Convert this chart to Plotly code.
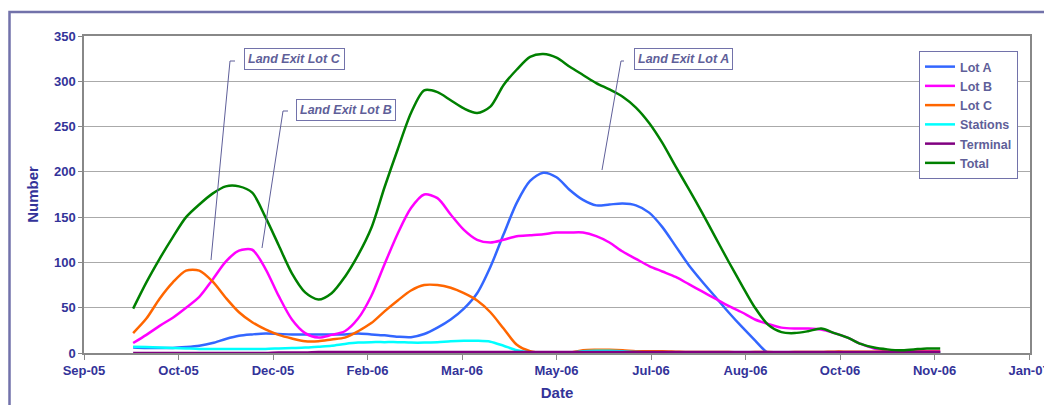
import pandas as pd
import plotly.graph_objects as go

# ---- data (weekly readings) ----
dates = pd.date_range("2005-10-01", periods=62, freq="7D")

lot_a = [6, 5.5, 5.5, 5.5, 6.5, 8, 11, 15.5, 19, 20.5,
         21.5, 21, 20.5, 20.5, 20.5, 20.5, 20.5, 21.5, 20.5, 19.5,
         18, 17.5, 21, 28, 37, 49, 66, 95, 131, 166,
         190, 199, 194, 180, 169, 163, 164, 165, 163, 155,
         139, 118, 97, 79, 62, 45, 29, 14, 0, 0,
         0, 0, 0, 0, 0, 0, 0, 0, 0, 0,
         0, 0]
lot_b = [11, 20, 30, 39, 50, 62, 81, 101, 113, 114,
         93, 63, 37, 22, 17, 20, 24, 38, 63, 98,
         132, 160, 175, 171, 153, 136, 125, 122, 125, 129,
         130, 131, 133, 133, 133, 129, 122, 112, 104, 96,
         90, 84, 76, 68, 60, 52, 45, 37, 32, 28,
         27, 27, 26, 22, 17, 10, 5, 3, 2, 2,
         2, 2]
lot_c = [22, 38, 60, 78, 91, 91, 79, 61, 45, 34,
         26, 20, 16, 13, 13, 15, 17, 24, 33, 46,
         58, 69, 75, 75, 72, 66, 58, 45, 27, 9,
         2, 0, 0, 0.5, 3, 3.5, 3.5, 3, 2, 2,
         2, 1.5, 1, 1, 1, 1, 0.5, 1, 1, 0.5,
         1, 1, 1, 1.5, 1.5, 1.5, 1.5, 1.5, 1.5, 1.5,
         1.5, 1.5]
stations = [7, 6.5, 6, 5.5, 5, 4.5, 4.5, 4.5, 4.5, 4.5,
            4.5, 5, 5.5, 6, 7, 8, 10, 11.5, 12, 12,
            12, 11.5, 11.5, 12, 13, 13.5, 13.5, 12.5, 8, 3,
            0.5, 0, 0, 0.5, 2, 2.5, 2.5, 2, 1, 0.5,
            0.5, 0.5, 0.5, 0.5, 0.5, 0.5, 0.5, 0.5, 0.5, 0.5,
            0.5, 0.5, 0.5, 0.5, 0.5, 0.5, 0.5, 0.5, 0.5, 0.5,
            0.5, 0.5]
terminal = [0, 0, 0, 0, 0, 0, 0, 0, 0, 0,
            0, 0.5, 0.5, 0.5, 1, 1, 1, 1, 1, 1,
            1, 1, 1, 1, 1, 1, 1, 1, 1, 1,
            1, 1, 1, 1, 1, 1, 1, 1, 1, 1,
            1, 1, 1, 1, 1, 1, 1, 1, 1, 1,
            1, 1, 1, 1, 1, 1, 1, 1, 1, 1,
            1, 1]
total = [49, 78, 104, 128, 150, 164, 176, 184, 184, 177,
         150, 119, 88, 67, 59, 66, 84, 108, 138, 183,
         225, 265, 290, 288, 279, 270, 265, 272, 296, 313,
         327, 330, 326, 316, 307, 298, 291, 283, 271, 254,
         232, 206, 181, 155, 128, 101, 75, 50, 31, 23,
         22, 24, 27, 22, 17, 10, 6, 4, 3, 4,
         5, 5]

series_names = ["Lot A", "Lot B", "Lot C", "Stations", "Terminal", "Total"]
series_vals = [lot_a, lot_b, lot_c, stations, terminal, total]
series_colors = ["#3366FF", "#FF00FF", "#FF6600", "#00FFFF", "#800080", "#008000"]

annot_texts = ["Land Exit Lot C", "Land Exit Lot B", "Land Exit Lot A"]

# ---- layout geometry (pixels) ----
W, H = 1044, 405
PL, PR, PT, PB = 84, 1030, 36, 353


def px(x):
    return (x - PL) / (PR - PL)


def py(y):
    return (PB - y) / (PB - PT)


TXT = "#333399"
SOFT = "#5F5F99"
FRAME = "#7272AA"
FONT = "Liberation Sans, Arial, sans-serif"

fig = go.Figure()
for name, vals, col in zip(series_names, series_vals, series_colors):
    fig.add_trace(go.Scatter(
        x=dates, y=vals, name=name, mode="lines",
        line=dict(color=col, width=2.5, shape="spline", smoothing=0.8),
    ))

shapes = []
# outer chart frame
shapes.append(dict(type="rect", xref="paper", yref="paper",
                   x0=px(9.5), x1=px(1100), y0=py(12), y1=py(460),
                   line=dict(color=FRAME, width=2.5), layer="below"))

# annotation boxes and leader lines
boxes = [((244, 345, 47, 71), (230, 61), (235, 61), (211, 260)),
         ((296, 396, 98, 121), (283, 111), (288, 111), (262, 248)),
         ((633, 734, 47, 71), (621, 61), (624, 61), (602, 170))]
annotations = []
for text, (box, p0, p1, p2) in zip(annot_texts, boxes):
    x0, x1, y0, y1 = box
    annotations.append(dict(
        xref="paper", yref="paper", x=px((x0 + x1) / 2), y=py((y0 + y1) / 2),
        text="<b><i>" + text + "</i></b>", showarrow=False,
        font=dict(family=FONT, size=12.5, color=SOFT),
        bgcolor="white", bordercolor=FRAME, borderwidth=1, borderpad=3,
        xanchor="center", yanchor="middle",
    ))
    shapes.append(dict(type="line", xref="paper", yref="paper",
                       x0=px(p0[0]), y0=py(p0[1]), x1=px(p1[0]), y1=py(p1[1]),
                       line=dict(color=SOFT, width=1)))
    shapes.append(dict(type="line", xref="paper", yref="paper",
                       x0=px(p0[0]), y0=py(p0[1]), x1=px(p2[0]), y1=py(p2[1]),
                       line=dict(color=SOFT, width=1)))

fig.update_layout(
    width=W, height=H,
    margin=dict(l=PL, r=W - PR, t=PT, b=H - PB, autoexpand=False),
    paper_bgcolor="white", plot_bgcolor="white",
    font=dict(family=FONT, color=TXT, weight="bold"),
    showlegend=True,
    legend=dict(x=px(919), y=py(51), xanchor="left", yanchor="top",
                bgcolor="white", bordercolor=FRAME, borderwidth=1,
                font=dict(family=FONT, size=12.5, color=SOFT, weight="bold"),
                itemwidth=30, tracegroupgap=0),
    shapes=shapes,
    annotations=annotations,
    xaxis=dict(
        type="date", range=["2005-09-05", "2007-01-18 12:00"],
        tick0="2005-09-05", dtick=50 * 86400000, tickformat="%b-%y",
        ticklabeloverflow="allow",
        showgrid=False, showline=True, linecolor="#888888", linewidth=1.5,
        mirror=True, ticks="outside", ticklen=5, tickcolor="#888888",
        tickfont=dict(family=FONT, size=13, color=TXT, weight="bold"),
        title=dict(text="<b>Date</b>", font=dict(family=FONT, size=15, color=TXT), standoff=10),
    ),
    yaxis=dict(
        range=[0, 350], dtick=50, showgrid=True, gridcolor="#AAAAAA", gridwidth=1,
        zeroline=False, showline=True, linecolor="#888888", linewidth=1.5,
        mirror=True, ticks="outside", ticklen=4, tickcolor="#888888",
        tickfont=dict(family=FONT, size=13, color=TXT, weight="bold"),
        title=dict(text="<b>Number</b>", font=dict(family=FONT, size=15, color=TXT), standoff=12),
    ),
)

fig.write_html("out.html")
